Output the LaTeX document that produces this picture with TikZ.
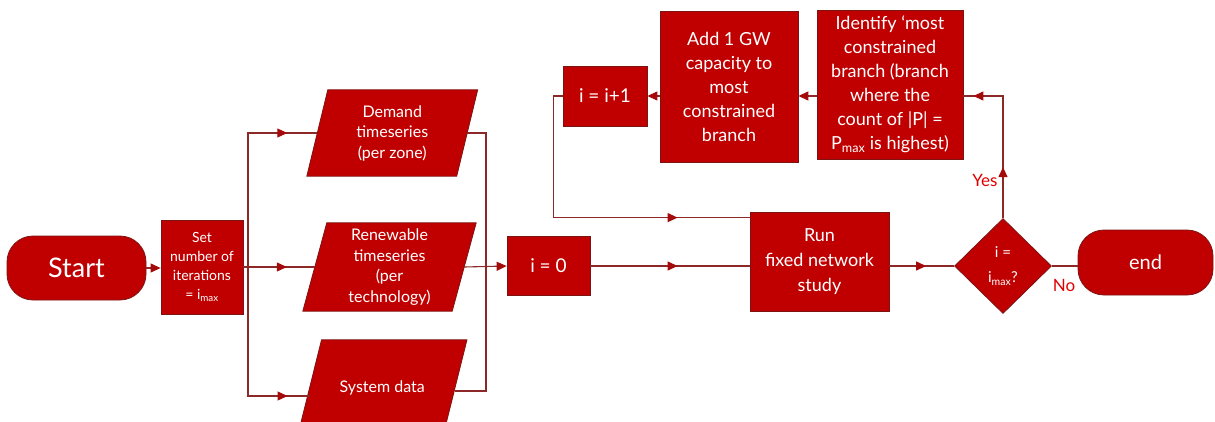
\documentclass[tikz,border=0pt]{standalone}
\usepackage{fontspec}
\setmainfont{Lato}
\usetikzlibrary{arrows.meta,shapes.geometric,decorations.markings,backgrounds,calc}
\definecolor{boxred}{RGB}{192,0,0}
\definecolor{edgered}{RGB}{125,20,20}
\definecolor{linered}{RGB}{140,40,40}
\definecolor{tipred}{RGB}{165,10,10}
\definecolor{lblred}{RGB}{225,0,0}
\begin{document}
\begin{tikzpicture}[x=1pt,y=-1pt,
  box/.style={rectangle, fill=boxred, draw=edgered, line width=0.8pt, text=white, align=center, inner sep=2pt},
  term/.style={box, rounded corners=26pt},
  paratext/.style={rectangle, text=white, align=center, inner sep=0pt},
  parafill/.style={fill=boxred, draw=edgered, line width=0.8pt},
  conn/.style={draw=linered, line width=1.1pt},
  endarr/.style={-{Triangle[length=10pt,width=9pt,color=tipred]}},
  midarr/.style={postaction={decorate}, decoration={markings, mark=at position #1 with {\arrow{Triangle[length=10pt,width=9pt,color=tipred]}}}},
  twoarr/.style 2 args={postaction={decorate}, decoration={markings, mark=at position #1 with {\arrow{Triangle[length=10pt,width=9pt,color=tipred]}}, mark=at position #2 with {\arrow{Triangle[length=10pt,width=9pt,color=tipred]}}}},
  lbl/.style={text=lblred, inner sep=0pt, font=\fontsize{17}{20}\selectfont},
  bigtxt/.style={font=\fontsize{18}{24}\selectfont},
  paratxt/.style={font=\fontsize{16}{20.5}\selectfont}
]
\useasboundingbox (0,0) rectangle (1215,421);

% nodes
\node[term, minimum width=139, minimum height=64, font=\fontsize{27}{30}\selectfont] (start) at (76.5,268) {Start};
\node[box, minimum width=82, minimum height=94, font=\fontsize{14}{19}\selectfont] (set) at (202,267) {Set\\number of\\iterations\\= i\textsubscript{max}};
\node[paratext, paratxt, minimum width=149.5, minimum height=86] (dem) at (392.25,133) {Demand\\timeseries\\(per zone)};
\node[paratext, paratxt, minimum width=149, minimum height=88] (ren) at (389.5,267) {Renewable\\timeseries\\(per\\technology)};
\node[paratext, paratxt, minimum width=145, minimum height=96] (sys) at (382.25,388) {System data};
\node[box, minimum width=83, minimum height=59, font=\fontsize{19}{22}\selectfont] (i0) at (548.5,266) {i = 0};
\node[box, bigtxt, minimum width=139, minimum height=99, font=\fontsize{18}{25}\selectfont] (run) at (819.5,261.5) {Run\\fixed network\\study};
\node[diamond, fill=boxred, draw=edgered, line width=0.8pt, text=white, align=center, inner sep=0pt, minimum width=97, minimum height=95, font=\fontsize{15}{25}\selectfont] (dia) at (1003,266) {i =\\i\textsubscript{max}?};
\node[term, minimum width=135, minimum height=65, font=\fontsize{20}{22}\selectfont] (stop) at (1145.5,262.5) {end};
\node[box, minimum width=84, minimum height=60, font=\fontsize{19}{22}\selectfont] (inc) at (605,96) {i = i+1};
\node[box, bigtxt, minimum width=138, minimum height=151] (add) at (729,86.5) {Add 1 GW\\capacity to\\most\\constrained\\branch};
\node[box, bigtxt, minimum width=146, minimum height=149] (ident) at (890,84.5) {Identify ‘most\\constrained\\branch (branch\\where the\\count of |P| =\\P\textsubscript{max} is highest)};

\begin{pgfonlayer}{background}
  \foreach \n/\s in {dem/10.5, ren/12, sys/12} {
    \filldraw[parafill] ([xshift=\s]\n.north west) -- ([xshift=\s]\n.north east) -- ([xshift=-\s]\n.south east) -- ([xshift=-\s]\n.south west) -- cycle;
  }
\end{pgfonlayer}

% connectors
\coordinate (fork) at (248,267);
\coordinate (merge) at (486,267);
\draw[conn, endarr] (start.east) -- (start.east -| set.west);
\draw[conn] (set.east) -- (fork);
\draw[conn, midarr=-30pt] (fork) |- (dem.west);
\draw[conn, midarr=-28pt] (fork) -- (ren.west);
\draw[conn, midarr=-22pt] (fork) |- ([yshift=-8]sys.west);
\draw[conn] (dem.east) -| (merge);
\draw[conn] ([yshift=-3]sys.east) -| (merge);
\draw[conn, endarr] (ren.east) -- (i0.west);
\draw[conn, midarr=-72pt] (i0.east) -- (i0.east -| run.west);
\draw[conn, midarr=-72pt] (inc.west) -- ++(-9,0) |- ([yshift=-6]run.north west);
\draw[conn, midarr=-28pt] (run.east |- dia.west) -- (dia.west);
\draw[conn] (dia.east) -- (dia.east -| stop.west);
\draw[conn, twoarr={51pt}{-10pt}] (dia.north) |- (ident.east |- inc.east);
\draw[conn, endarr] (ident.west |- inc.east) -- (add.east |- inc.east);
\draw[conn, endarr] (add.west |- inc.east) -- (inc.east);

\node[lbl] (yes) at (985,180) {Yes};
\node[lbl] (no) at (1064,285) {No};
\end{tikzpicture}
\end{document}
